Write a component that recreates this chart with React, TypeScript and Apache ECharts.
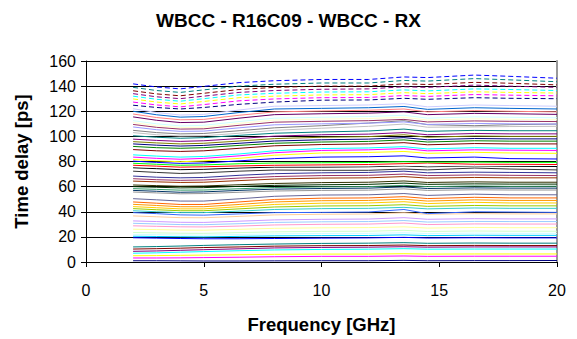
import React, { useEffect, useRef } from "react";
import * as echarts from "echarts";

const chartTitle = "WBCC - R16C09 - WBCC - RX";
const xName = "Frequency [GHz]";
const yName = "Time delay [ps]";

const freqs = [2, 3, 4, 5, 6.5, 8, 10, 12, 13.5, 14.5, 16.5, 18, 20];

const lineColors = [
  "#000080", "#FF00FF", "#FFFF00", "#00FFFF", "#800080", "#800000", "#008080", "#0000FF",
  "#00CCFF", "#CCFFFF", "#CCFFCC", "#FFFF99", "#99CCFF", "#FF99CC", "#CC99FF", "#FFCC99",
  "#3366FF", "#33CCCC", "#99CC00", "#FFCC00", "#FF9900", "#FF6600", "#666699", "#969696",
  "#003366", "#339966", "#003300", "#333300", "#993300", "#993366", "#333399", "#333333",
  "#000000", "#FFFFFF", "#FF0000", "#00FF00", "#0000FF", "#FFFF00", "#FF00FF", "#00FFFF",
  "#800000", "#008000", "#000080", "#808000", "#800080", "#008080", "#C0C0C0", "#808080",
  "#9999FF", "#993366", "#FFFFCC", "#CCFFFF", "#660066", "#FF8080", "#0066CC", "#CCCCFF",
  "#000080", "#FF00FF", "#FFFF00", "#00FFFF", "#800080", "#800000", "#008080", "#0000FF",
];

// number of solid lines; the rest are dashed
const solidCount = 56;

const delays: number[][] = [
  [1, 1, 0.9, 0.8, 0.8, 0.9, 1, 1, 1.3, 1, 1.1, 1.1, 1.2],
  [3.2, 3.2, 3.3, 3.5, 3.8, 4.2, 4.5, 4.5, 4.8, 4.5, 4.6, 4.6, 4.6],
  [5, 5.1, 5.3, 5.5, 5.8, 6.1, 6.3, 6.3, 6.6, 6.3, 6.4, 6.4, 6.4],
  [7, 7.3, 7.8, 8.3, 9, 9.6, 10, 10.2, 10.6, 10.2, 10.3, 10.3, 10.3],
  [8.5, 8.8, 9.3, 9.8, 10.5, 11.2, 11.6, 11.8, 12.2, 11.8, 12, 12, 12],
  [10.3, 10.6, 11, 11.5, 12, 12.6, 13, 13.1, 13.5, 13, 13.2, 13.1, 13.1],
  [12, 12.3, 12.7, 13.2, 13.8, 14.3, 14.8, 15, 15.4, 14.9, 15.1, 15, 15],
  [19.3, 19, 18.7, 18.5, 18.5, 18.7, 19, 19.2, 19.6, 19.1, 19.3, 19.2, 19.2],
  [20.5, 20.3, 20.1, 20, 20.4, 20.8, 21, 21.1, 21.6, 21, 21.3, 21.2, 21.2],
  [22, 21.8, 21.5, 21.4, 21.9, 22.4, 22.7, 22.8, 23.3, 22.6, 23, 22.8, 22.8],
  [23.5, 23.2, 22.9, 22.8, 23.4, 24, 24.4, 24.5, 25.2, 24.3, 24.7, 24.5, 24.5],
  [26.1, 25.8, 25.4, 25.3, 26, 26.8, 27.2, 27.4, 28, 27, 27.5, 27.3, 27.3],
  [30.8, 30.3, 29.8, 29.7, 30.5, 31.5, 32, 32.2, 33, 31.8, 32.3, 32.2, 32.2],
  [28.8, 28.4, 28, 27.9, 28.6, 29.5, 30, 30.2, 31, 29.8, 30.3, 30.2, 30.2],
  [32.7, 32.2, 31.6, 31.5, 32.5, 33.5, 34, 34.2, 35.3, 34, 34.5, 34.3, 34.3],
  [36.7, 36, 35.3, 35.2, 36.3, 37.5, 38, 38.2, 39.2, 38, 38.5, 38.3, 38.3],
  [39.3, 38.5, 37.5, 37.3, 38.3, 39.3, 39.5, 39.8, 41.8, 38.5, 40, 39.8, 39.5],
  [40.8, 40, 39.3, 39.3, 40.5, 41.8, 42.5, 42.7, 43.5, 42.3, 43, 42.7, 42.7],
  [42.5, 41.6, 40.8, 40.8, 42.3, 43.8, 44.6, 44.8, 45.6, 44.3, 45, 44.7, 44.7],
  [44.1, 43.2, 42.3, 42.3, 44, 45.8, 46.8, 47, 48, 46.5, 47.5, 47, 47],
  [45.9, 45, 44, 44, 45.8, 47.8, 48.8, 49, 50, 48.5, 49.5, 49, 49],
  [47.8, 46.8, 45.8, 45.8, 47.8, 49.8, 50.8, 51, 52, 50.5, 51.5, 51, 51],
  [50.4, 49.5, 48.5, 48.5, 50.3, 52.3, 53.3, 53.5, 54.5, 53, 54, 53.5, 53.5],
  [55.7, 55, 54.3, 54.5, 55.5, 56.5, 57, 57.2, 58.2, 57, 57.5, 57.3, 57.3],
  [57, 56.3, 55.5, 55.8, 57, 58, 58.5, 58.8, 59.8, 58.5, 59, 58.8, 58.8],
  [58.4, 57.8, 57.2, 57.3, 58.3, 59.3, 59.8, 60, 61, 60, 60.5, 60.2, 60.3],
  [60, 59.5, 59, 59.2, 60.2, 61, 61.5, 61.8, 62.8, 61.8, 62.2, 62, 62],
  [61.3, 60.8, 60.3, 60.5, 61.5, 62.5, 63.2, 63.5, 64.5, 63.3, 63.8, 63.5, 63.5],
  [64.4, 63.8, 63.3, 63.5, 64.8, 66, 66.8, 67, 68, 66.8, 67.3, 67, 67],
  [66.3, 65.5, 65, 65.3, 66.8, 68, 68.8, 69, 70, 68.8, 69.3, 69, 68.8],
  [68.4, 67.5, 67, 67.3, 69, 70.3, 71, 71.3, 72.3, 71, 71.5, 71.3, 71],
  [72.3, 71.3, 70.5, 71, 72.3, 73.2, 73, 73, 74, 73.3, 74.8, 74, 73.3],
  [75, 74.3, 73.5, 73.8, 74.8, 75.5, 75.5, 75.8, 76.5, 75.8, 76.5, 76.2, 76],
  [76, 75.5, 75, 75, 75.8, 76.3, 76.5, 76.5, 77, 76.5, 76.8, 76.8, 76.8],
  [77, 76.3, 75.5, 75.8, 76.5, 77, 77.3, 77.6, 78.3, 78.8, 77.8, 77.8, 77.6],
  [78.6, 77.8, 77, 77.3, 78.2, 78.8, 79, 79.2, 79.8, 79.5, 79.5, 79.3, 79.3],
  [80.3, 79.3, 78.5, 78.8, 80.5, 82.3, 83.5, 83.8, 84.5, 82.8, 83.5, 82.3, 82],
  [81.6, 80.6, 79.8, 80.5, 82.5, 85, 86.8, 87.2, 88, 86.5, 87.3, 86.8, 86.5],
  [83.5, 82.5, 81.8, 82.5, 84.5, 87, 88.8, 89.3, 90.3, 88.5, 89.3, 89, 88.8],
  [85.3, 84.3, 83.5, 84, 86, 88.5, 90.3, 90.8, 91.8, 90, 91, 90.5, 90.5],
  [89.5, 88.5, 88, 88.5, 90.5, 92.5, 93.5, 94, 95, 93.3, 94.3, 94, 94],
  [92, 91, 90.5, 91, 92.8, 94.5, 95.5, 96, 97.2, 95.5, 96.5, 96.2, 96.2],
  [94, 93, 92.3, 92.8, 94.5, 96.3, 97.3, 97.8, 99, 97.3, 98.3, 98, 98],
  [95.8, 94.8, 94, 94.5, 96.3, 98.2, 99.3, 99.8, 101.3, 99.3, 100.3, 100, 100],
  [97.8, 96.8, 96, 96.5, 98.3, 100.2, 101.3, 101.8, 103, 101.3, 102.3, 102, 102],
  [100.5, 99.3, 98.5, 99, 100.8, 102.5, 103.5, 104.3, 105.8, 104, 104.8, 104.5, 104.5],
  [103, 101.3, 100.3, 100.5, 102.5, 104.8, 106.5, 108, 109.8, 107.3, 107.5, 107.8, 108],
  [104.8, 103, 102, 102.3, 104.5, 106.8, 108.5, 110.6, 112.5, 109.3, 108.5, 109.3, 109.8],
  [107.5, 105.3, 104, 104.2, 106.8, 109.2, 110, 110.5, 111.5, 109.5, 110.3, 110, 109.8],
  [109.5, 107.2, 105.8, 106, 108.8, 111.3, 112, 112.5, 113.5, 111.5, 112.3, 112, 111.8],
  [111, 108.5, 107, 107.3, 110.3, 113, 113.8, 114.2, 115.2, 113, 114, 113.6, 113.2],
  [112.5, 110, 108.3, 108.8, 111.8, 114.5, 115.2, 115.8, 116.8, 114.5, 115.5, 115.2, 114.8],
  [115.5, 112.8, 111, 111.3, 114.5, 117.3, 118, 118.5, 119.5, 117.3, 118.3, 118, 117.5],
  [117.8, 115, 113.2, 113.5, 116.8, 119.5, 120.2, 120.8, 121.8, 119.5, 120.5, 120, 119.5],
  [120, 117.2, 115.3, 115.8, 119, 121.8, 122.3, 122.8, 123.8, 121.5, 122.8, 122.3, 121.8],
  [122, 119, 117, 117.5, 121, 124, 124.5, 125, 126, 123.5, 125, 124.5, 124],
  [124.8, 123, 121.8, 123, 125.5, 127.3, 128.8, 129, 130.3, 129.5, 130.8, 130.3, 130],
  [127.3, 125, 123.5, 125.3, 128.3, 129.8, 130.8, 131, 132.5, 131.8, 133.3, 132.8, 132.3],
  [129.8, 127.3, 125.8, 127.8, 130.8, 132, 133, 133.2, 134.8, 134, 135.5, 135, 134.5],
  [132, 129.5, 128, 130, 133, 134.3, 135.3, 135.5, 137, 136.2, 137.8, 137.3, 136.5],
  [134, 131.5, 130, 132, 135, 136.5, 137.5, 137.8, 139.5, 139, 140.8, 140, 139],
  [136.3, 133.8, 132.3, 134.3, 137.3, 139, 140, 140, 141.8, 141.3, 143, 142.3, 141],
  [139, 136.5, 135, 137, 140, 141.5, 142.5, 142.5, 144.5, 144, 146, 145, 143.5],
  [141.8, 139.3, 137.8, 139.8, 142.8, 144.3, 145.3, 145.3, 147.3, 146.8, 148.8, 147.8, 146.3],
];

const FONT = "'Liberation Sans', Arial, sans-serif";

export default function App() {
  const ref = useRef<HTMLDivElement>(null);

  useEffect(() => {
    if (!ref.current) return;
    const chart = echarts.init(ref.current, undefined, { renderer: "svg" });

    const series = delays.map((vals, i) => ({
      type: "line",
      name: "Ch " + (i + 1),
      data: vals.map((v, j) => [freqs[j], v]),
      showSymbol: false,
      symbol: "none",
      silent: true,
      lineStyle: {
        color: lineColors[i],
        width: 1,
        type: i >= solidCount ? [5, 3] : "solid",
      },
      z: 2,
    }));

    chart.setOption({
      animation: false,
      backgroundColor: "#ffffff",
      title: {
        text: chartTitle,
        left: "center",
        top: 6,
        textStyle: { fontFamily: FONT, fontSize: 19, fontWeight: "bold", color: "#000" },
      },
      grid: { left: 86, right: 20, top: 61, bottom: 70, containLabel: false },
      xAxis: {
        type: "value",
        min: 0,
        max: 20,
        interval: 5,
        name: xName,
        nameLocation: "middle",
        nameGap: 53,
        nameTextStyle: { fontFamily: FONT, fontSize: 18.5, fontWeight: "bold", color: "#000" },
        axisLine: { show: true, onZero: false, lineStyle: { color: "#000", width: 1 } },
        axisTick: { show: true, inside: false, length: 5, lineStyle: { color: "#000" } },
        axisLabel: { fontFamily: FONT, fontSize: 16, color: "#000", margin: 20 },
        splitLine: { show: false },
      },
      yAxis: [
        {
          type: "value",
          min: 0,
          max: 160,
          interval: 20,
          name: yName,
          nameLocation: "middle",
          nameGap: 55,
          nameRotate: 90,
          nameTextStyle: { fontFamily: FONT, fontSize: 18.5, fontWeight: "bold", color: "#000" },
          axisLine: { show: true, lineStyle: { color: "#000", width: 1 } },
          axisTick: { show: true, inside: false, length: 5, lineStyle: { color: "#000" } },
          axisLabel: { fontFamily: FONT, fontSize: 16, color: "#000", margin: 10 },
          splitLine: { show: true, lineStyle: { color: "#000", width: 1 } },
        },
        {
          type: "value",
          min: 0,
          max: 160,
          interval: 20,
          position: "right",
          axisLine: { show: true, lineStyle: { color: "#999999", width: 2 } },
          axisTick: { show: false },
          axisLabel: { show: false },
          splitLine: { show: false },
        },
      ],
      series,
    });

    return () => chart.dispose();
  }, []);

  return (
    <div
      ref={ref}
      style={{ position: "fixed", left: 0, top: 0, width: 577, height: 339 }}
    />
  );
}
